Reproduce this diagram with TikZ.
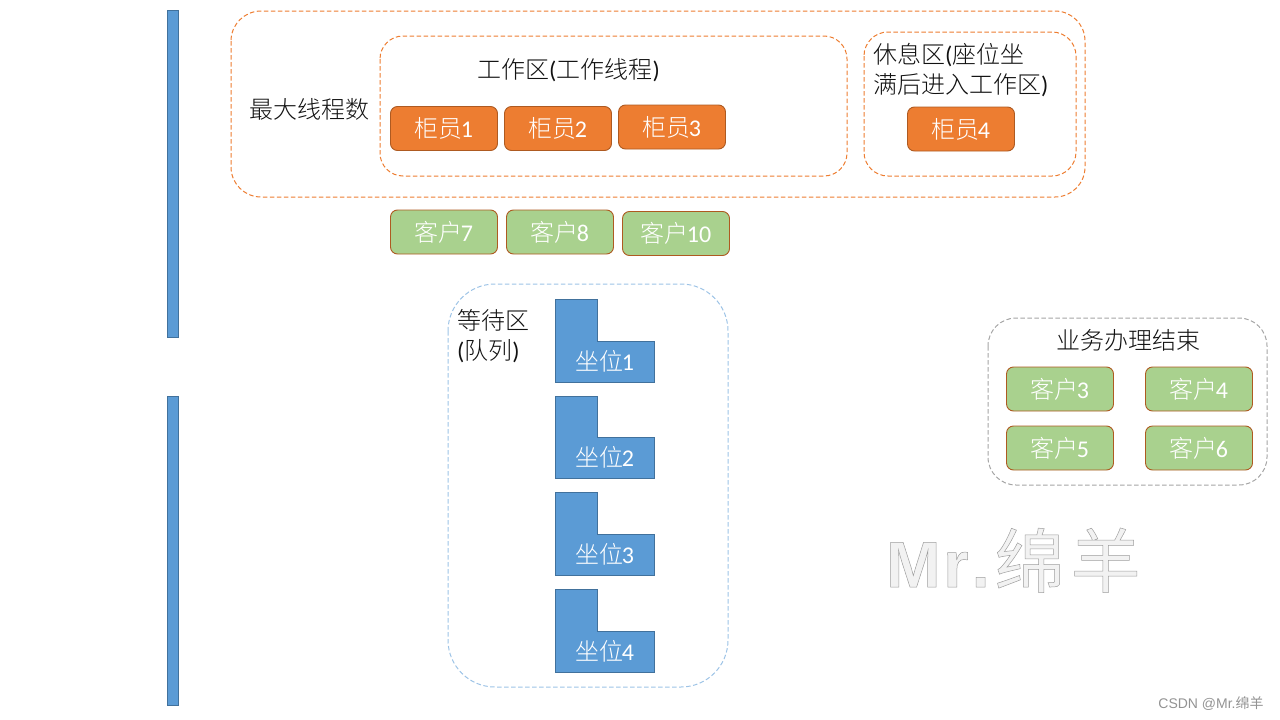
\documentclass[tikz,border=0pt]{standalone}
\usepackage{fontspec}
\setmainfont{Carlito}
\newfontfamily\cjk{Noto Sans CJK SC Light}
\newfontfamily\cjkreg{Noto Sans CJK SC}
\newfontfamily\wmlat{Liberation Sans}[BoldFont={Liberation Sans Bold}]
\newcommand{\zh}[1]{{\cjk #1}}
\newcommand{\cd}[2]{{\cjk #1}\kern-2pt #2}
\definecolor{org}{HTML}{ED7D31}
\definecolor{orgd}{HTML}{AE5A21}
\definecolor{grn}{HTML}{A9D18E}
\definecolor{blu}{HTML}{5B9BD5}
\definecolor{blud}{HTML}{41719C}
\definecolor{lblu}{HTML}{9DC3E6}
\definecolor{gry}{HTML}{A5A5A5}
\definecolor{txt}{HTML}{111111}
\tikzset{
 x=1pt,y=-1pt,
 zone/.style={draw,dashed,dash pattern=on 4.5pt off 2.5pt,line width=1pt,fill=none},
 lab/.style={font=\fontsize{24}{30}\selectfont,text=txt,inner sep=0pt,align=left},
 card/.style={rounded corners=7pt,line width=0.9pt,draw=orgd,inner sep=0pt,minimum width=107pt,minimum height=44pt,text=white,font=\fontsize{24}{29}\selectfont},
 staff/.style={card,fill=org},
 client/.style={card,fill=grn},
 seat/.style={draw=blud,fill=blu,line width=0.8pt},
 seatlab/.style={text=white,inner sep=0pt,font=\fontsize{24}{29}\selectfont},
 bar/.style={draw=blud,fill=blu,line width=0.8pt},
}
\begin{document}
\begin{tikzpicture}
\useasboundingbox (0,0) rectangle (1280,720);
\draw[bar] (167.5,10.5) rectangle (178.5,337.5);
\draw[bar] (167.5,396.5) rectangle (178.5,705.5);
\draw[zone,draw=org,rounded corners=30pt] (231,11) rectangle (1085,197);
\draw[zone,draw=org,rounded corners=23pt] (380,36) rectangle (847,176);
\draw[zone,draw=org,rounded corners=24pt] (864,32) rectangle (1076,176);
\draw[zone,draw=lblu,rounded corners=47pt] (448,284) rectangle (728,687);
\draw[zone,draw=gry,rounded corners=28pt] (988,318) rectangle (1267,485);
\node[lab,anchor=center] (maxn) at (309,109.5) {\zh{最大线程数}};
\node[lab,anchor=center] (work) at (568.5,70) {\zh{工作区}(\zh{工作线程})};
\node[lab,anchor=north west] (rest) at (873,43.5) {\zh{休息区}(\zh{座位坐}\\\zh{满后进入工作区})};
\node[lab,anchor=north west] (wait) at (457,309.5) {\zh{等待区}\\(\zh{队列})};
\node[lab,anchor=center] (done) at (1128,340) {\zh{业务办理结束}};
\node[staff] (s1) at (444,128.5) {\cd{柜员}{1}};
\node[staff] (s2) at (558,128.5) {\cd{柜员}{2}};
\node[staff] (s3) at (672,127) {\cd{柜员}{3}};
\node[staff] (s4) at (961,129) {\cd{柜员}{4}};
\node[client] (c7) at (444,232) {\cd{客户}{7}};
\node[client] (c8) at (560,232) {\cd{客户}{8}};
\node[client] (c10) at (676,233.5) {\cd{客户}{10}};
\node[client] (c3) at (1060,389) {\cd{客户}{3}};
\node[client] (c4) at (1199,389) {\cd{客户}{4}};
\node[client] (c5) at (1060,448) {\cd{客户}{5}};
\node[client] (c6) at (1199,448) {\cd{客户}{6}};
\draw[seat] (555.5,299.5) -- (597.5,299.5) -- (597.5,341) -- (654.5,341) -- (654.5,382.5) -- (555.5,382.5) -- cycle;
\draw[seat] (555.5,396.5) -- (597,396.5) -- (597,437.5) -- (654.5,437.5) -- (654.5,478.5) -- (555.5,478.5) -- cycle;
\draw[seat] (555.5,492.5) -- (597.5,492.5) -- (597.5,534) -- (654.5,534) -- (654.5,575.5) -- (555.5,575.5) -- cycle;
\draw[seat] (555.5,589.5) -- (597.5,589.5) -- (597.5,631) -- (654.5,631) -- (654.5,672) -- (555.5,672) -- cycle;
\node[seatlab] (q1) at (605,361) {\cd{坐位}{1}};
\node[seatlab] (q2) at (605,457) {\cd{坐位}{2}};
\node[seatlab] (q3) at (605,554) {\cd{坐位}{3}};
\node[seatlab] (q4) at (605,651) {\cd{坐位}{4}};
\node[inner sep=0pt,anchor=base west] (mark) at (886,587) {\special{pdf:code q 2 Tr 0.5 w 0.62 0.62 0.62 RG 0.95 0.95 0.95 rg}\fontsize{65}{72}\selectfont{\wmlat\bfseries M\kern3pt r\kern3pt.}\kern5pt{\fontsize{70}{72}\selectfont\cjkreg 绵\kern6pt 羊}\special{pdf:code 0 Tr Q}};
\node[inner sep=0pt,text=gray!85,font=\fontsize{14}{16}\selectfont] (csdn) at (1211,704) {\wmlat CSDN @Mr.{\cjkreg 绵羊}};
\end{tikzpicture}
\end{document}
